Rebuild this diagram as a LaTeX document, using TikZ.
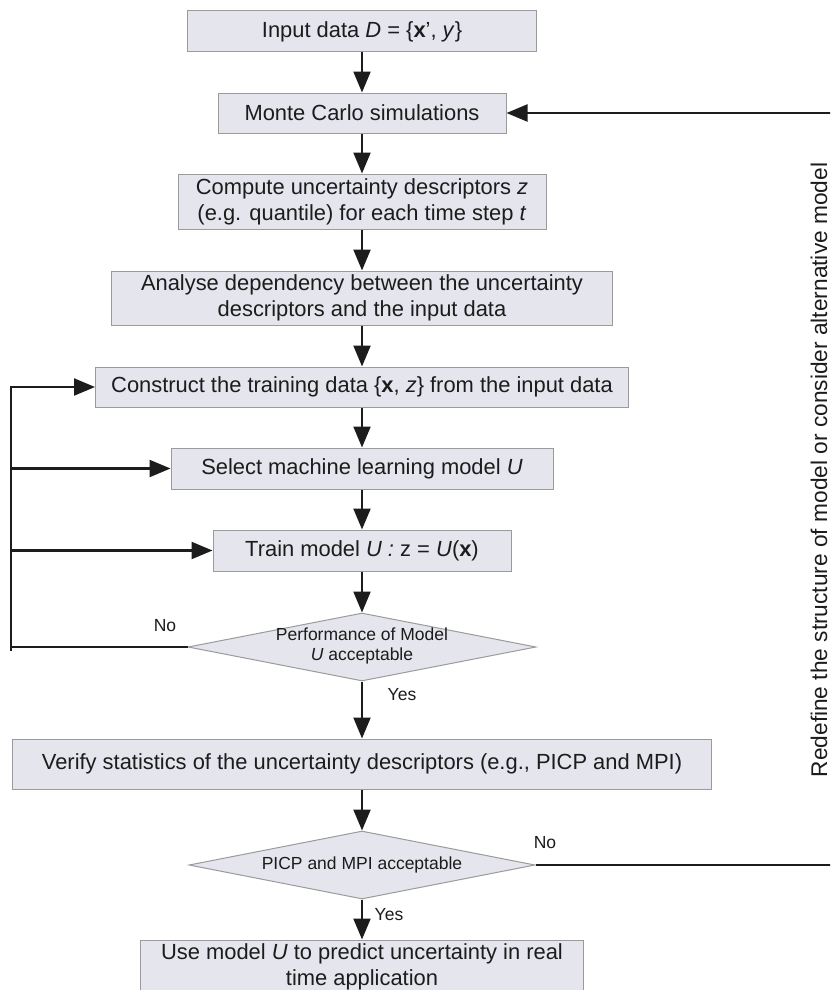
\documentclass[tikz,border=0pt]{standalone}
\usepackage{fontspec}
\setmainfont{Liberation Sans}
\usetikzlibrary{arrows.meta,shapes.geometric}
\definecolor{boxfill}{RGB}{229,229,237}
\definecolor{boxline}{RGB}{155,155,155}
\definecolor{ink}{RGB}{28,28,28}
\begin{document}
\begin{tikzpicture}[x=1pt,y=-1pt,
  stepbox/.style={draw=boxline,fill=boxfill,line width=1pt,inner sep=0pt,align=center,
    text=ink,font=\fontsize{21.9}{26}\selectfont},
  dia/.style={draw=boxline,fill=boxfill,line width=1pt,diamond,inner sep=0pt},
  diatext/.style={text=ink,align=center,inner sep=0pt,font=\fontsize{17.5}{20.5}\selectfont},
  lab/.style={text=ink,inner sep=0pt,font=\fontsize{17.5}{20}\selectfont},
  arr/.style={draw=ink,line width=2.2pt,-{Triangle[length=21pt,width=17pt]}},
  ln/.style={draw=ink,line width=2.2pt}]
\useasboundingbox (0,0) rectangle (830,990);
\clip (0,0) rectangle (830,990);
\fill[white] (0,0) rectangle (830,990);

\node[stepbox,minimum width=349pt,minimum height=41pt] (b1) at (362,31.5)
  {Input data \textit{D} = \{\textbf{x}’, \textit{y}\}};
\node[stepbox,minimum width=288pt,minimum height=40pt] (b2) at (362,113)
  {Monte Carlo simulations};
\node[stepbox,minimum width=368pt,minimum height=55pt] (b3) at (362,201.5)
  {Compute uncertainty descriptors \textit{z}\\(e.g. quantile) for each time step \textit{t}};
\node[stepbox,minimum width=501pt,minimum height=54pt] (b4) at (362,298)
  {Analyse dependency between the uncertainty\\descriptors and the input data};
\node[stepbox,minimum width=533pt,minimum height=40pt] (b5) at (362,387)
  {Construct the training data \{\textbf{x}, \textit{z}\} from the input data};
\node[stepbox,minimum width=382pt,minimum height=41pt] (b6) at (362,468.5)
  {Select machine learning model \textit{U}};
\node[stepbox,minimum width=298pt,minimum height=41pt] (b7) at (362,550.5)
  {Train model \textit{U :} z = \textit{U}(\textbf{x})};
\node[dia,minimum width=348pt,minimum height=68pt] (d1) at (362,647) {};
\node[diatext] (d1t) at (362,646) {Performance of Model\\\textit{U} acceptable};
\node[stepbox,minimum width=699pt,minimum height=50pt] (b8) at (362,764)
  {Verify statistics of the uncertainty descriptors (e.g., PICP and MPI)};
\node[dia,minimum width=346pt,minimum height=68pt] (d2) at (362,865) {};
\node[diatext] (d2t) at (362,865) {PICP and MPI acceptable};
\node[stepbox,minimum width=443pt,minimum height=54pt] (b9) at (362,967)
  {Use model \textit{U} to predict uncertainty in real\\time application};

% main flow
\draw[arr] (b1.south) -- (b2.north);
\draw[arr] (b2.south) -- (b3.north);
\draw[arr] (b3.south) -- (b4.north);
\draw[arr] (b4.south) -- (b5.north);
\draw[arr] (b5.south) -- (b6.north);
\draw[arr] (b6.south) -- (b7.north);
\draw[arr] (b7.south) -- (d1.north);
\draw[arr] (d1.south) -- (b8.north);
\draw[arr] (b8.south) -- (d2.north);
\draw[arr] (d2.south) -- (b9.north);

% left feedback loop
\coordinate (L) at (11,647);
\draw[ln] (d1.west) -- (L);
\draw[arr] (11,651) -- (L) |- (b5.west);
\draw[arr] (L |- b6.west) -- (b6.west);
\draw[arr] (L |- b7.west) -- (b7.west);

% right feedback loop (vertical leg lies beyond the visible edge)
\coordinate (R) at (834,865);
\draw[arr] (d2.east) -- (R) |- (b2.east);

% labels
\node[lab] (no1) at (165,626) {No};
\node[lab] (yes1) at (402,695) {Yes};
\node[lab] (no2) at (545,843) {No};
\node[lab] (yes2) at (389,915) {Yes};
\node[text=ink,inner sep=0pt,rotate=90,anchor=base,font=\fontsize{22.7}{26}\selectfont] (redef) at (827,470)
  {Redefine the structure of model or consider alternative model};
\end{tikzpicture}
\end{document}
